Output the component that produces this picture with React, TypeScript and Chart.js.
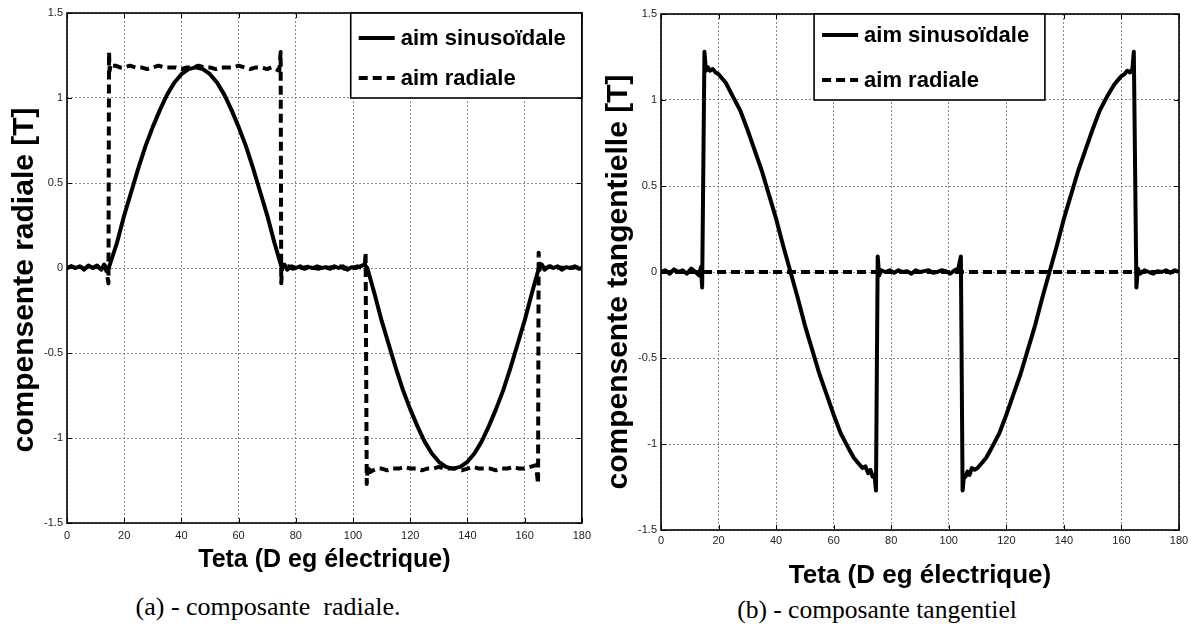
import React, { useEffect, useRef } from "react";
import { Chart, registerables } from "chart.js";

Chart.register(...registerables);

const SANS = '"Liberation Sans", Arial, Helvetica, sans-serif';
const SERIF = '"Liberation Serif", "Times New Roman", serif';

// ---------- axis ticks ----------
const xTickStep = 20;
const xMin = 0;
const xMax = 180;
const yTickStep = 0.5;
const yMin = -1.5;
const yMax = 1.5;

// ---------- labels ----------
const seriesLabels = ["aim sinusoïdale", "aim radiale"];
const xTitle = "Teta (D eg électrique)";
const yTitleA = "compensente radiale [T]";
const yTitleB = "compensente tangentielle [T]";
const captionA = "(a) - composante  radiale.";
const captionB = "(b) - composante tangentiel";

// ---------- (a) radial component : sinusoidal magnet ----------
const radialSinX = [0, 1.5, 3, 4.5, 6, 7.5, 9, 10.5, 12, 13, 14, 14.6,
  17.5, 20, 22.5, 25, 27.5, 30, 32.5, 35, 37.5, 40, 42.5, 45, 47.5, 50, 52.5, 55, 57.5, 60, 62.5, 65, 67.5, 70, 72.5, 75.1,
  76, 77, 78.5, 80, 81.5, 83, 84.5, 86, 87.5, 89, 90.5, 92, 93.5, 95, 96.5, 98, 99.5, 101, 102.5, 104, 105,
  107.5, 110, 112.5, 115, 117.5, 120, 122.5, 125, 127.5, 130, 132.5, 135, 137.5, 140, 142.5, 145, 147.5, 150, 152.5, 155, 157.5, 160, 162.5, 165,
  166, 167, 168.5, 170, 171.5, 173, 174.5, 176, 177.5, 179, 180];
const radialSinY = [0, 0.01, 0.0, 0.01, -0.01, 0.015, 0.0, 0.01, -0.01, 0.02, -0.02, 0.0,
  0.15, 0.31, 0.45, 0.59, 0.72, 0.83, 0.93, 1.02, 1.09, 1.14, 1.17, 1.18, 1.17, 1.14, 1.09, 1.02, 0.93, 0.83, 0.72, 0.59, 0.45, 0.31, 0.15, 0.0,
  0.02, -0.01, 0.01, 0.0, 0.01, -0.005, 0.005, 0.0, 0.01, 0.0, 0.005, -0.005, 0.01, 0.0, 0.01, -0.01, 0.005, 0.0, 0.01, 0.02, 0.0,
  -0.15, -0.31, -0.45, -0.59, -0.72, -0.83, -0.93, -1.02, -1.09, -1.14, -1.17, -1.18, -1.17, -1.14, -1.09, -1.02, -0.93, -0.83, -0.72, -0.59, -0.45, -0.31, -0.15, 0.0,
  0.02, -0.01, 0.01, 0.0, 0.01, -0.01, 0.005, 0.0, 0.01, -0.005, 0.0];

// ---------- (a) radial component : radial magnet ----------
const radialMagX = [0, 1.5, 3, 4.5, 6, 7.5, 9, 10.5, 12, 13.5,
  14.5, 14.7, 14.9, 15.3, 16, 17, 18.5,
  20, 22, 24, 26, 28, 30, 32, 34, 36, 38, 40, 42, 44, 46, 48, 50, 52, 54, 56, 58, 60, 62, 64, 66, 68, 70,
  71.5, 73, 74.2, 74.7, 74.9, 75.3,
  76, 77.5, 79, 80.5, 82, 83.5, 85, 86.5, 88, 89.5, 91, 92.5, 94, 95.5, 97, 98.5, 100, 101.5, 103,
  104.1, 104.4, 104.8, 105.2, 106, 107, 108.5,
  110, 112, 114, 116, 118, 120, 122, 124, 126, 128, 130, 132, 134, 136, 138, 140, 142, 144, 146, 148, 150, 152, 154, 156, 158, 160, 162,
  164, 164.7, 164.9, 165.3,
  166, 167.5, 169, 170.5, 172, 173.5, 175, 176.5, 178, 180];
const radialMagY = [0, 0.01, 0, 0.01, -0.005, 0.01, 0, 0.015, -0.01, 0.01,
  -0.09, 1.27, 1.16, 1.2, 1.19, 1.19, 1.18,
  1.18, 1.19, 1.18, 1.18, 1.17, 1.18, 1.19, 1.18, 1.18, 1.18, 1.17, 1.18, 1.18, 1.19, 1.18, 1.18, 1.17, 1.18, 1.18, 1.18, 1.19, 1.18, 1.17, 1.18, 1.18, 1.17,
  1.18, 1.17, 1.16, 1.27, -0.09, 0.02,
  0, 0.01, -0.005, 0.01, 0, 0.005, 0.01, 0, -0.005, 0.01, 0, 0.005, 0, 0.01, -0.005, 0.005, 0, 0.01, 0,
  0.01, 0.09, -1.27, -1.16, -1.2, -1.19, -1.18,
  -1.18, -1.19, -1.18, -1.18, -1.17, -1.18, -1.18, -1.19, -1.18, -1.18, -1.17, -1.18, -1.18, -1.18, -1.19, -1.18, -1.17, -1.18, -1.18, -1.18, -1.19, -1.18, -1.18, -1.17, -1.18, -1.18, -1.17,
  -1.16, -1.27, 0.09, -0.01,
  0.01, 0, 0.01, -0.005, 0.005, 0, 0.01, 0, 0.005, 0];

// ---------- (b) tangential component : sinusoidal magnet ----------
const tangSinX = [0, 1.5, 3, 4.5, 6, 7.5, 9, 10.5, 12, 13.2, 13.9,
  14.3, 15.1, 15.6, 16.3, 17, 18, 19, 20,
  22.5, 25, 27.5, 30, 32.5, 35, 37.5, 40, 42.5, 45, 47.5, 50, 52.5, 55, 57.5, 60, 62.5, 65,
  67, 68.5, 70, 71, 72, 72.8, 73.5, 74.2, 74.7, 75.3, 75.8, 76.5,
  78, 79.5, 81, 82.5, 84, 85.5, 87, 88.5, 90, 91.5, 93, 94.5, 96, 97.5, 99, 100.5, 102, 103.3,
  104.2, 104.8, 105.3, 105.8, 106.5, 107.2, 108, 109, 110, 111.5, 113,
  115, 117.5, 120, 122.5, 125, 127.5, 130, 132.5, 135, 137.5, 140, 142.5, 145, 147.5, 150, 152.5, 155,
  157.5, 159, 160, 161, 162, 163, 163.8, 164.3, 165.2, 165.7, 166.5,
  168, 169.5, 171, 172.5, 174, 175.5, 177, 178.5, 180];
const tangSinY = [0, 0.01, -0.01, 0.015, 0, 0.01, -0.01, 0.02, 0, -0.02, 0.03,
  -0.09, 1.28, 1.17, 1.19, 1.17, 1.18, 1.16, 1.15,
  1.10, 1.02, 0.94, 0.83, 0.71, 0.59, 0.45, 0.31, 0.15, 0.0, -0.15, -0.31, -0.45, -0.59, -0.71, -0.83, -0.94, -1.02,
  -1.08, -1.11, -1.14, -1.13, -1.17, -1.15, -1.19, -1.18, -1.27, 0.09, -0.02, 0.01,
  0, 0.01, -0.005, 0.01, 0, 0.005, -0.01, 0.01, 0, 0.005, 0.01, -0.005, 0, 0.01, 0.005, -0.01, 0.01, 0.02,
  0.09, -1.27, -1.18, -1.19, -1.16, -1.18, -1.14, -1.15, -1.14, -1.11, -1.08,
  -1.02, -0.94, -0.83, -0.71, -0.59, -0.45, -0.31, -0.15, 0.0, 0.15, 0.31, 0.45, 0.59, 0.71, 0.83, 0.94, 1.02,
  1.09, 1.12, 1.14, 1.15, 1.17, 1.16, 1.18, 1.28, -0.09, 0.02, -0.01,
  0.01, 0, -0.01, 0.005, 0, 0.01, -0.005, 0.01, 0];

// ---------- (b) tangential component : radial magnet ----------
const tangMagX = [0, 180];
const tangMagY = [0, 0];

const zip = (xs: number[], ys: number[]) => {
  const n = Math.min(xs.length, ys.length);
  const out: { x: number; y: number }[] = [];
  for (let i = 0; i < n; i++) out.push({ x: xs[i], y: ys[i] });
  return out;
};

const framePlugin = {
  id: "frame",
  beforeDatasetsDraw(chart: any) {
    const { ctx, chartArea: a, scales } = chart;
    ctx.save();
    ctx.strokeStyle = "#000";
    ctx.lineWidth = 1;
    const seg = (x1: number, y1: number, x2: number, y2: number) => {
      ctx.beginPath();
      ctx.moveTo(x1, y1);
      ctx.lineTo(x2, y2);
      ctx.stroke();
    };
    scales.x.ticks.forEach((t: any) => {
      const px = Math.round(scales.x.getPixelForValue(t.value)) + 0.5;
      seg(px, a.bottom, px, a.bottom - 5);
      seg(px, a.top, px, a.top + 5);
    });
    scales.y.ticks.forEach((t: any) => {
      const py = Math.round(scales.y.getPixelForValue(t.value)) + 0.5;
      seg(a.left, py, a.left + 5, py);
      seg(a.right, py, a.right - 5, py);
    });
    ctx.lineWidth = 1.6;
    ctx.strokeRect(a.left, a.top, a.right - a.left, a.bottom - a.top);
    ctx.restore();
  },
};

const boxLegendPlugin = {
  id: "boxLegend",
  afterDatasetsDraw(chart: any, _args: any, opts: any) {
    const { ctx, scales } = chart;
    const l = scales.x.getPixelForValue(opts.x0);
    const r = scales.x.getPixelForValue(opts.x1);
    const t = scales.y.getPixelForValue(opts.y0);
    const b = scales.y.getPixelForValue(opts.y1);
    ctx.save();
    ctx.fillStyle = "#fff";
    ctx.fillRect(l, t, r - l, b - t);
    ctx.strokeStyle = "#000";
    ctx.lineWidth = 1.6;
    ctx.strokeRect(l, t, r - l, b - t);
    chart.data.datasets.forEach((ds: any, i: number) => {
      const cy = t + opts.rows[i];
      ctx.beginPath();
      ctx.setLineDash(ds.borderDash || []);
      ctx.lineWidth = 4;
      ctx.strokeStyle = "#000";
      ctx.moveTo(l + 8, cy);
      ctx.lineTo(l + 44, cy);
      ctx.stroke();
      ctx.setLineDash([]);
      ctx.fillStyle = "#000";
      ctx.font = `bold 22px ${SANS}`;
      ctx.textBaseline = "middle";
      ctx.textAlign = "left";
      ctx.fillText(ds.label, l + 50, cy + 1);
    });
    ctx.restore();
  },
};

const yTitlePlugin = {
  id: "yTitleText",
  afterDraw(chart: any, _args: any, opts: any) {
    const { ctx } = chart;
    ctx.save();
    ctx.translate(opts.cx, opts.cy);
    ctx.rotate(-Math.PI / 2);
    ctx.font = `bold ${opts.size}px ${SANS}`;
    ctx.textAlign = "center";
    ctx.textBaseline = "middle";
    ctx.fillStyle = "#000";
    ctx.fillText(opts.text, 0, 0);
    ctx.restore();
  },
};

type PanelProps = {
  left: number;
  width: number;
  height: number;
  yAxisWidth: number;
  xAxisHeight: number;
  padTop: number;
  padRight: number;
  solid: { x: number; y: number }[];
  dashed: { x: number; y: number }[];
  yTitle: { text: string; size: number; cx: number; cy: number };
  xTitleSize: number;
  xTitlePad: number;
  xTickPad: number;
  legend: { x0: number; x1: number; y0: number; y1: number; rows: number[] };
};

function Panel(p: PanelProps) {
  const ref = useRef<HTMLCanvasElement>(null);
  useEffect(() => {
    const chart = new Chart(ref.current as HTMLCanvasElement, {
      type: "line",
      data: {
        datasets: [
          {
            label: seriesLabels[0],
            data: p.solid,
            borderColor: "#000",
            borderWidth: 4,
            pointRadius: 0,
            tension: 0,
            fill: false,
            borderJoinStyle: "round",
          },
          {
            label: seriesLabels[1],
            data: p.dashed,
            borderColor: "#000",
            borderWidth: 4,
            borderDash: [9, 5],
            pointRadius: 0,
            tension: 0,
            fill: false,
            borderJoinStyle: "round",
          },
        ],
      } as any,
      options: {
        animation: false,
        responsive: false,
        maintainAspectRatio: false,
        events: [],
        layout: { padding: { top: p.padTop, right: p.padRight, left: 0, bottom: 0 } },
        plugins: {
          legend: { display: false },
          tooltip: { enabled: false },
          boxLegend: p.legend,
          yTitleText: p.yTitle,
        } as any,
        scales: {
          x: {
            type: "linear",
            min: xMin,
            max: xMax,
            ticks: {
              stepSize: xTickStep,
              font: { family: SANS, size: 11 },
              color: "#222",
              padding: p.xTickPad,
              maxRotation: 0,
              autoSkip: false,
            },
            grid: { color: "#8a8a8a", lineWidth: 1, drawTicks: false },
            border: { display: false, dash: [2, 2] },
            title: {
              display: true,
              text: xTitle,
              color: "#000",
              font: { family: SANS, size: p.xTitleSize, weight: "bold" },
              padding: { top: 0, bottom: p.xTitlePad },
            },
            afterFit: (s: any) => {
              s.height = p.xAxisHeight;
            },
          },
          y: {
            type: "linear",
            min: yMin,
            max: yMax,
            ticks: {
              stepSize: yTickStep,
              font: { family: SANS, size: 11 },
              color: "#222",
              padding: 4,
              autoSkip: false,
              callback: (v: any) => `${v}`,
            },
            grid: { color: "#8a8a8a", lineWidth: 1, drawTicks: false },
            border: { display: false, dash: [2, 2] },
            afterFit: (s: any) => {
              s.width = p.yAxisWidth;
            },
          },
        } as any,
      },
      plugins: [framePlugin, boxLegendPlugin, yTitlePlugin],
    });
    return () => chart.destroy();
  }, []);
  return (
    <canvas
      ref={ref}
      width={p.width}
      height={p.height}
      style={{ position: "absolute", left: p.left, top: 0, width: p.width, height: p.height }}
    />
  );
}

export default function App() {
  return (
    <div
      style={{
        position: "absolute",
        left: 0,
        top: 0,
        width: 1195,
        height: 626,
        background: "#fff",
        overflow: "hidden",
      }}
    >
      <Panel
        left={0}
        width={597}
        height={590}
        yAxisWidth={67}
        xAxisHeight={67}
        padTop={13}
        padRight={15}
        solid={zip(radialSinX, radialSinY)}
        dashed={zip(radialMagX, radialMagY)}
        yTitle={{ text: yTitleA, size: 30, cx: 25, cy: 280 }}
        xTitleSize={25}
        xTitlePad={15}
        xTickPad={6}
        legend={{ x0: 99.2, x1: 180, y0: 1.5, y1: 1.0, rows: [25, 65] }}
      />
      <Panel
        left={597}
        width={598}
        height={595}
        yAxisWidth={64}
        xAxisHeight={65}
        padTop={14}
        padRight={16}
        solid={zip(tangSinX, tangSinY)}
        dashed={zip(tangMagX, tangMagY)}
        yTitle={{ text: yTitleB, size: 30, cx: 22, cy: 282 }}
        xTitleSize={26}
        xTitlePad={4}
        xTickPad={4}
        legend={{ x0: 53.2, x1: 133.4, y0: 1.5, y1: 1.0, rows: [21, 66] }}
      />
      <div
        style={{
          position: "absolute",
          left: 68,
          width: 400,
          top: 592,
          lineHeight: "30px",
          fontFamily: SERIF,
          fontSize: 26,
          textAlign: "center",
          whiteSpace: "pre",
          color: "#000",
        }}
      >
        {captionA}
      </div>
      <div
        style={{
          position: "absolute",
          left: 677,
          width: 400,
          top: 595,
          lineHeight: "30px",
          fontFamily: SERIF,
          fontSize: 25.5,
          textAlign: "center",
          whiteSpace: "pre",
          color: "#000",
        }}
      >
        {captionB}
      </div>
    </div>
  );
}
